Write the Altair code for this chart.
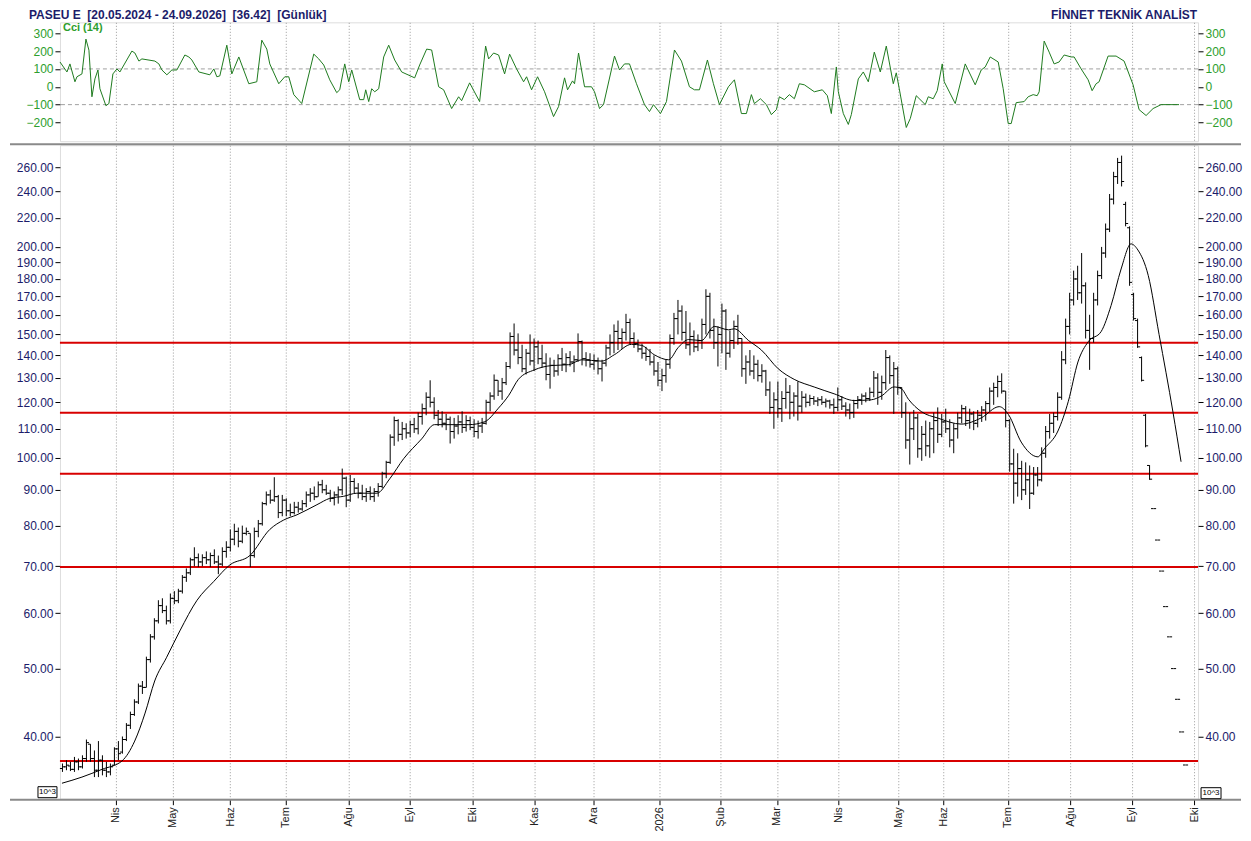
import altair as alt
import pandas as pd

# ---------------- data ----------------
HIGH = [
    36.6, 37.0, 36.8, 37.4, 37.2, 37.6, 39.6, 39.0, 38.2, 39.4,
    37.6, 36.8, 36.6, 38.6, 39.4, 40.0, 41.8, 43.4, 45.2, 47.6,
    48.0, 52.0, 56.0, 59.0, 62.6, 63.0, 61.5, 64.0, 64.5, 65.0,
    68.0, 69.5, 72.0, 74.5, 73.0, 72.8, 73.5, 73.2, 74.0, 72.5,
    74.5, 76.0, 79.0, 80.5, 79.5, 80.0, 79.5, 78.0, 79.5, 81.5,
    86.5, 89.5, 90.0, 93.8, 88.5, 88.5, 87.5, 86.0, 86.5, 86.5,
    87.0, 89.5, 90.5, 91.0, 92.5, 93.0, 91.5, 90.0, 89.5, 91.0,
    96.5, 94.0, 94.5, 93.5, 92.0, 91.5, 90.5, 91.0, 90.5, 92.0,
    95.5, 99.0, 108.0, 114.5, 113.5, 112.5, 112.0, 113.0, 114.0, 116.0,
    119.5, 124.0, 129.0, 122.0, 117.0, 116.5, 115.5, 114.5, 114.0, 115.0,
    116.5, 115.0, 114.5, 113.5, 113.0, 114.0, 121.0, 124.0, 131.5, 129.0,
    130.0, 137.0, 151.0, 155.5, 150.5, 145.0, 143.0, 150.0, 148.0, 147.0,
    145.0, 141.0, 139.0, 138.0, 140.5, 143.5, 141.0, 142.0, 140.0, 150.5,
    147.0, 141.5, 141.0, 140.5, 139.0, 138.0, 145.0, 150.0, 155.0, 157.0,
    153.0, 160.5, 158.0, 151.0, 147.5, 145.5, 144.0, 143.0, 140.0, 137.0,
    134.0, 138.0, 150.0, 161.0, 168.0, 165.0, 162.0, 156.0, 152.0, 150.0,
    158.0, 174.0, 172.0, 158.0, 154.0, 166.0, 163.0, 152.0, 157.0, 160.0,
    148.0, 140.0, 142.5, 140.0, 138.0, 136.0, 133.5, 128.5, 124.0, 128.5,
    124.5, 130.0, 127.0, 124.0, 128.5, 124.5, 123.5, 123.0, 122.5, 122.0,
    122.5, 121.5, 121.0, 121.5, 126.0, 122.5, 120.0, 119.5, 121.0, 122.5,
    123.5, 124.0, 126.0, 133.0, 132.0, 131.0, 142.5, 140.0, 137.0, 135.0,
    126.0, 120.0, 116.0, 117.0, 115.5, 111.0, 113.0, 112.5, 116.0, 118.0,
    115.5, 117.5, 113.5, 112.0, 116.0, 119.0, 118.5, 117.5, 116.5, 117.0,
    118.5, 120.5, 126.0, 128.0, 131.0, 132.0, 124.5, 113.5, 103.0, 101.5,
    99.0, 98.5, 97.5, 97.0, 97.0, 103.5, 111.0, 115.5, 116.0, 124.0,
    142.0, 158.0, 172.0, 185.0, 188.0, 196.0, 178.0, 160.0, 172.0, 185.0,
    200.0, 216.0, 238.0, 256.0, 268.0, 270.0, 232.0, 214.0, 172.0, 158.0,
    139.5, 115.5, 97.6, 84.6, 76.3, 68.9, 61.3, 55.5, 50.0, 45.2,
    40.6, 36.42,
]
LOW = [
    35.6, 35.8, 35.7, 35.6, 35.8, 36.0, 36.8, 36.8, 35.0, 35.0,
    35.2, 35.0, 35.2, 36.4, 37.0, 37.8, 39.4, 41.0, 42.8, 44.5,
    46.0, 47.0, 51.0, 55.0, 58.0, 60.0, 57.8, 58.0, 61.8, 62.0,
    64.0, 66.5, 68.0, 70.0, 69.8, 70.0, 70.5, 69.8, 70.5, 68.2,
    70.0, 72.0, 73.5, 75.0, 74.5, 75.5, 77.5, 69.8, 72.0, 77.0,
    80.0, 85.5, 86.0, 86.5, 82.0, 82.5, 82.5, 82.5, 83.0, 83.5,
    84.0, 85.0, 86.5, 87.0, 88.0, 89.0, 88.5, 86.5, 85.5, 86.0,
    88.5, 85.0, 86.5, 89.0, 87.5, 87.0, 86.5, 87.0, 86.5, 88.0,
    90.5, 93.5, 98.0, 104.0, 105.5, 106.0, 106.5, 107.0, 108.5, 108.0,
    111.5, 115.0, 118.0, 113.5, 111.0, 110.5, 109.5, 104.8, 106.5, 108.0,
    108.5, 109.0, 109.5, 107.0, 106.5, 108.5, 111.5, 116.5, 121.0, 122.5,
    121.0, 127.0, 134.0, 140.0, 136.0, 132.5, 131.5, 135.5, 133.0, 136.0,
    134.5, 129.0, 125.5, 130.5, 131.0, 133.0, 132.5, 135.0, 132.5, 137.0,
    135.5, 135.0, 134.5, 133.5, 131.5, 128.5, 135.0, 140.0, 141.0, 142.5,
    143.0, 147.0, 145.0, 143.5, 141.5, 138.5, 137.5, 135.5, 131.0, 126.5,
    124.5, 128.0, 134.0, 145.0, 150.0, 147.0, 143.0, 140.0, 141.5, 142.0,
    143.0, 150.0, 148.0, 143.0, 135.0, 141.0, 133.5, 139.0, 143.0, 145.0,
    130.5, 127.5, 131.0, 129.5, 128.5, 128.0, 122.5, 115.5, 110.0, 114.0,
    112.5, 117.5, 113.5, 114.5, 113.0, 116.0, 118.0, 118.5, 119.0, 118.5,
    119.0, 118.0, 117.5, 115.5, 116.5, 117.0, 114.5, 113.5, 114.0, 117.5,
    119.0, 120.0, 120.5, 122.0, 119.0, 121.0, 125.0, 127.5, 115.5, 123.0,
    114.0, 103.0, 97.8, 106.0, 100.0, 99.0, 100.5, 100.0, 101.5, 105.0,
    107.0, 108.5, 103.5, 101.5, 106.5, 112.0, 111.0, 110.0, 109.5, 110.5,
    112.5, 113.0, 116.5, 119.0, 122.0, 123.5, 110.5, 95.5, 86.0, 88.0,
    87.0, 88.5, 84.5, 88.5, 91.0, 92.5, 100.0, 106.5, 108.5, 113.0,
    121.0, 136.0, 150.0, 165.0, 168.0, 166.0, 148.0, 133.5, 146.0, 165.0,
    180.0, 193.0, 210.0, 230.0, 246.0, 244.0, 214.0, 176.0, 157.0, 143.5,
    128.5, 103.5, 93.0, 84.6, 76.3, 68.9, 61.3, 55.5, 50.0, 45.2,
    40.6, 36.42,
]
OPEN = [
    36.0, 36.2, 36.3, 35.9, 36.8, 36.2, 37.2, 39.0, 37.2, 35.8,
    37.0, 35.8, 35.6, 36.4, 38.4, 38.0, 39.6, 41.5, 43.0, 44.8,
    47.2, 47.0, 51.5, 55.5, 58.5, 61.5, 60.5, 58.5, 63.0, 62.5,
    64.5, 67.5, 68.5, 71.5, 72.0, 71.0, 72.0, 71.5, 72.5, 71.0,
    70.5, 73.5, 74.5, 76.5, 78.5, 76.0, 78.0, 78.0, 72.5, 78.5,
    80.5, 86.0, 88.5, 87.0, 88.0, 83.5, 87.0, 84.0, 83.5, 85.0,
    84.5, 86.0, 88.5, 89.0, 88.0, 91.5, 90.0, 89.0, 87.5, 88.5,
    90.0, 93.5, 87.0, 92.5, 90.5, 89.0, 88.0, 89.5, 88.0, 89.5,
    91.0, 95.0, 98.5, 107.0, 113.0, 108.0, 110.0, 108.5, 111.5, 110.0,
    114.5, 117.5, 122.0, 120.0, 115.0, 113.5, 112.0, 113.5, 109.0, 111.0,
    112.5, 110.5, 113.0, 110.5, 109.0, 111.0, 112.0, 120.0, 122.5, 129.0,
    124.5, 128.0, 135.0, 149.0, 142.5, 139.0, 134.0, 141.0, 137.5, 144.0,
    138.5, 136.5, 131.5, 135.5, 133.0, 138.5, 136.0, 139.0, 137.0, 138.0,
    146.5, 138.5, 138.0, 136.0, 137.5, 134.0, 136.5, 143.5, 146.0, 151.5,
    148.0, 151.0, 156.0, 148.0, 145.5, 143.0, 141.0, 139.5, 137.0, 133.0,
    129.0, 131.0, 136.0, 148.0, 158.0, 162.0, 151.0, 145.0, 149.0, 144.0,
    147.0, 155.0, 170.0, 152.0, 146.0, 150.0, 162.0, 141.0, 147.0, 154.0,
    148.0, 134.0, 137.0, 133.0, 136.0, 131.0, 133.0, 125.0, 118.0, 121.0,
    117.5, 121.5, 124.0, 120.0, 122.5, 118.5, 122.0, 120.0, 121.5, 120.5,
    121.0, 120.0, 120.5, 119.0, 118.0, 121.0, 118.5, 117.0, 116.0, 119.5,
    121.0, 122.5, 121.5, 124.0, 130.0, 124.0, 128.0, 139.0, 131.0, 134.0,
    126.0, 116.0, 106.0, 110.0, 114.0, 103.0, 108.0, 104.0, 110.0, 113.0,
    108.0, 112.5, 110.0, 106.0, 110.0, 114.0, 117.5, 113.0, 115.5, 112.0,
    115.0, 117.0, 119.5, 124.5, 126.0, 128.5, 124.5, 113.0, 98.0, 92.0,
    96.5, 90.0, 93.0, 89.0, 94.5, 93.0, 101.5, 109.0, 112.0, 114.5,
    122.0, 138.0, 154.0, 168.0, 180.0, 172.0, 176.0, 152.0, 148.0, 168.0,
    182.0, 196.0, 212.0, 234.0, 252.0, 264.0, 230.0, 213.0, 171.0, 157.0,
    139.0, 115.0, 97.5, 84.6, 76.3, 68.9, 61.3, 55.5, 50.0, 45.2,
    40.6, 36.42,
]
CLOSE = [
    36.2, 36.4, 35.9, 36.8, 36.2, 37.2, 39.2, 37.2, 35.8, 37.0,
    35.8, 35.6, 36.2, 38.4, 37.8, 39.6, 41.5, 43.0, 44.8, 47.2,
    47.0, 51.5, 55.5, 58.5, 61.5, 60.5, 58.5, 63.0, 62.5, 64.5,
    67.5, 68.5, 71.5, 72.0, 71.0, 72.0, 71.5, 72.5, 71.0, 70.5,
    73.5, 74.5, 76.5, 78.5, 76.0, 78.0, 78.5, 72.5, 78.5, 80.5,
    86.0, 88.5, 87.0, 88.0, 83.5, 87.0, 84.0, 83.5, 85.0, 84.5,
    86.0, 88.5, 89.0, 88.0, 91.5, 90.0, 89.0, 87.5, 88.5, 90.0,
    93.5, 87.0, 92.5, 90.5, 89.0, 88.0, 89.5, 88.0, 89.5, 91.0,
    95.0, 98.5, 107.0, 113.0, 108.0, 110.0, 108.5, 111.5, 110.0, 114.5,
    117.5, 122.0, 120.0, 115.0, 113.5, 112.0, 113.5, 109.0, 111.0, 112.5,
    110.5, 113.0, 110.5, 109.0, 111.0, 112.0, 120.0, 122.5, 129.0, 124.5,
    128.0, 135.0, 149.0, 142.5, 139.0, 134.0, 141.0, 137.5, 144.0, 138.5,
    136.5, 131.5, 135.5, 133.0, 138.5, 136.0, 139.0, 137.0, 138.0, 146.5,
    138.5, 138.0, 136.0, 137.5, 134.0, 136.5, 143.5, 146.0, 151.5, 148.0,
    151.0, 156.0, 148.0, 145.5, 143.0, 141.0, 139.5, 137.0, 133.0, 129.0,
    131.0, 136.0, 148.0, 158.0, 162.0, 151.0, 145.0, 149.0, 144.0, 147.0,
    155.0, 170.0, 152.0, 146.0, 150.0, 162.0, 141.0, 147.0, 154.0, 148.0,
    134.0, 137.0, 133.0, 136.0, 131.0, 133.0, 125.0, 118.0, 121.0, 117.5,
    121.5, 124.0, 120.0, 122.5, 118.5, 122.0, 120.0, 121.5, 120.5, 121.0,
    120.0, 120.5, 119.0, 118.0, 121.0, 118.5, 117.0, 116.0, 119.5, 121.0,
    122.5, 121.5, 124.0, 130.0, 124.0, 128.0, 139.0, 131.0, 134.0, 126.0,
    116.0, 106.0, 110.0, 114.0, 103.0, 108.0, 104.0, 110.0, 113.0, 108.0,
    112.5, 110.0, 106.0, 110.0, 114.0, 117.5, 113.0, 115.5, 112.0, 115.0,
    117.0, 119.5, 124.5, 126.0, 128.5, 124.5, 113.0, 98.0, 92.0, 96.5,
    90.0, 93.0, 89.0, 94.5, 93.0, 101.5, 109.0, 112.0, 114.5, 122.0,
    138.0, 154.0, 168.0, 180.0, 172.0, 176.0, 152.0, 148.0, 168.0, 182.0,
    196.0, 212.0, 234.0, 252.0, 264.0, 248.0, 216.0, 178.0, 158.0, 144.0,
    129.0, 104.0, 93.2, 84.6, 76.3, 68.9, 61.3, 55.5, 50.0, 45.2,
    40.6, 36.42,
]

# moving average (day, value)
MA = [
    (0, 34.3), (5, 35.0), (10, 35.9), (15, 36.9), (18.2, 39.4), (20.8, 43.2),
    (23.2, 48.0), (26.2, 51.9), (29.5, 56.6), (33.8, 62.6), (38, 66.6), (42, 70.3),
    (47, 72.5), (52, 79.0), (55.5, 81.5), (58.8, 82.9), (63.8, 85.7), (67, 87.5),
    (70.5, 88.1), (73.8, 89.0), (78.8, 89.0), (82, 93.3), (85.5, 99.7), (90, 106.4),
    (93.2, 111.5), (101.8, 111.5), (105.8, 112.6), (109.2, 117.7), (111.8, 122.8),
    (114.2, 129.4), (118.2, 133.5), (122.5, 135.4), (126.8, 135.8), (130, 138.0),
    (135, 137.4), (138.2, 140.3), (142.5, 145.2), (145, 144.7), (148.2, 140.3),
    (151.8, 138.0), (154.2, 143.7), (156.8, 147.5), (160, 147.0), (163.2, 154.0),
    (166.8, 152.3), (168.2, 152.8), (171.8, 147.0), (175, 142.5), (179.2, 134.0),
    (183.2, 129.4), (188.2, 126.2), (193.2, 123.4), (198.2, 120.7), (202.5, 121.0),
    (205, 122.5), (208.2, 126.2), (210, 125.5), (211.8, 121.2), (215, 116.4),
    (219.2, 113.9), (225, 111.7), (230, 114.0), (234.5, 118.3), (236.8, 115.3),
    (240, 105.3), (244.2, 100.3), (245.8, 103.0), (249.2, 109.2), (251.8, 120.4),
    (254.2, 137.0), (256.8, 146.5), (260, 151.4), (262.5, 165.0), (265, 186.0),
    (267.5, 202.0), (269.2, 198.0), (271.8, 182.0), (274.5, 150.0), (278, 116.0),
    (280, 98.7),
]

# CCI(14) (day, value)
CCI = [
    (-0.5, 139), (1.25, 83), (2, 128), (3.25, 28), (3.75, 56), (5, 72), (6, 267),
    (6.75, 205), (7.5, -56), (8.25, 44), (9, 94), (9.5, -11), (11, -106), (11.75, -94),
    (12.75, 72), (13.75, 100), (14.5, 83), (15.5, 122), (17.5, 200), (18.25, 189),
    (19.25, 144), (20, 156), (23.25, 144), (24.25, 128), (25, 94), (26.25, 67),
    (27.5, 94), (28.75, 94), (30.75, 178), (31.75, 167), (32.5, 150), (34.25, 83),
    (37, 67), (38, 100), (38.75, 56), (39.5, 61), (41.25, 233), (42.5, 72),
    (44.25, 167), (46.75, 17), (48.75, 28), (50, 261), (51.25, 211), (52, 128),
    (54.25, 17), (55.75, 56), (56.75, 56), (58, -44), (60, -94), (63, 183),
    (64.25, 156), (65.5, 122), (67, 39), (68.75, -33), (69.5, -17), (70.75, 128),
    (71.75, 28), (72.5, 94), (74.5, -72), (75.5, -72), (76, -17), (76.75, -83),
    (77.5, -11), (78.25, -28), (79.25, -11), (80.5, 167), (81.75, 233), (83.25, 150),
    (85, 83), (88.25, 50), (89.5, 122), (91.25, 211), (92.5, 206), (94.25, 0),
    (95.5, -17), (97.5, -122), (99.25, -56), (100, -78), (102, 22), (104.5, -83),
    (106, 228), (106.75, 156), (108, 189), (109.25, 178), (110.75, 72), (112, 183),
    (113.75, 100), (115.5, 28), (116.25, 56), (117.5, -17), (119, 56), (120.75, -28),
    (123, -167), (124.25, -111), (125.75, 50), (126.5, -17), (127.75, 33), (128.25, 17),
    (129.25, 189), (130.75, 0), (132.5, 0), (133.25, -28), (134.5, -122), (135.5, -100),
    (138.25, 172), (139.5, 94), (140.75, 128), (142, 128), (143.75, 17), (145.75, -100),
    (147, -139), (148, -100), (149.75, -150), (151.25, -83), (153.25, 206), (155, 144),
    (157, 0), (158.25, -17), (159.5, -17), (161.5, 150), (163, 17), (164.5, -100),
    (166.75, 0), (168.25, 39), (170, -150), (171.25, -150), (172.5, -44), (173.25, -94),
    (174.75, -67), (176.25, -100), (177.5, -156), (178.75, -128), (179.5, -56),
    (180.75, -72), (182, -44), (183.25, -67), (184.5, 17), (185.75, 11), (188.25, -28),
    (190.25, -17), (191.5, -50), (192.5, -150), (193.75, 111), (194.25, -28),
    (195.5, -150), (196.75, -211), (197.5, -156), (199.25, 44), (200.5, 83),
    (201.75, 28), (203.25, 194), (204.75, 83), (206.25, 228), (208, 17), (208.75, 78),
    (209.5, -11), (211.25, -228), (212.25, -178), (213.75, -50), (216, -100),
    (216.75, -56), (218, -67), (219, -22), (220.25, 128), (220.75, 28), (223.5, -94),
    (226, 128), (228.5, 11), (230, 94), (231, 111), (232.25, 167), (234.25, 139),
    (235.5, -11), (236.75, -206), (237.5, -206), (238.75, -89), (240.75, -83),
    (241.75, -56), (243, -44), (244, -50), (244.5, -28), (245.75, 256), (247, 194),
    (248.25, 128), (249.5, 139), (250.75, 178), (252.5, 167), (253.25, 167), (255, 100),
    (256.75, 39), (257.75, -22), (258.75, 17), (259.5, 28), (261.75, 172),
    (263.75, 172), (265.75, 144), (268, 11), (269.5, -128), (271.25, -161), (273, -122),
    (275, -100), (277.5, -100), (279.5, -100),
]

MONTH_POS = [13.4, 27.7, 42.1, 56.0, 71.7, 86.9, 102.7, 118.3, 133.0, 149.4,
             164.75, 178.9, 194.2, 209.2, 220.6, 236.7, 252.3, 267.7, 283.3]
MONTH_LBL = ["Nis", "May", "Haz", "Tem", "Ağu", "Eyl", "Eki", "Kas", "Ara", "2026",
             "Şub", "Mar", "Nis", "May", "Haz", "Tem", "Ağu", "Eyl", "Eki"]
PRICE_TICKS = [40, 50, 60, 70, 80, 90, 100, 110, 120, 130, 140, 150, 160, 170,
               180, 190, 200, 220, 240, 260]
CCI_TICKS = [-200, -100, 0, 100, 200, 300]
LEVELS = [145.9, 115.9, 94.9, 69.8, 36.9]
CCI_BANDS = [-100, 100]

HEADER_LEFT = "PASEU E\u00a0\u00a0[20.05.2024 - 24.09.2026]\u00a0\u00a0[36.42]\u00a0\u00a0[Günlük]"
HEADER_RIGHT = "FİNNET TEKNİK ANALİST"
CCI_NAME = "Cci (14)"

# ---------------- styling ----------------
FONT = "Liberation Sans"
NAVY = "#1c1c6a"
GREEN_LBL = "#2e9e2e"
GREEN_LINE = "#1e7a1e"
W = 1139
H_TOP = 119
H_MAIN = 654

bars = pd.DataFrame({"day": list(range(len(HIGH))), "high": HIGH, "low": LOW,
                     "open": OPEN, "close": CLOSE})
ma_df = pd.DataFrame(MA, columns=["day", "ma"])
cci_df = pd.DataFrame(CCI, columns=["day", "cci"])
one = pd.DataFrame({"k": [0]})

xs = alt.Scale(domain=[-0.5, 284.25], nice=False, zero=False)
ys = alt.Scale(type="log", domain=[32.6, 279.4], nice=False)
cs = alt.Scale(domain=[-305, 361], nice=False, zero=False)

label_expr = ("[" + ",".join("'" + m + "'" for m in MONTH_LBL) + "][indexof(["
              + ",".join(str(p) for p in MONTH_POS) + "], datum.value)]")

x_axis_main = alt.Axis(values=MONTH_POS, labelExpr=label_expr, labelAngle=270,
                       labelFontSize=11, labelColor="#222222", labelFont=FONT,
                       labelOverlap=False, labelBound=False, labelFlush=False,
                       grid=True, gridColor="#9a9a9a", gridDash=[1, 2], gridWidth=1,
                       ticks=True, tickColor="black", tickSize=6, domain=False,
                       title=None, labelPadding=2)
x_axis_top = alt.Axis(values=MONTH_POS, labels=False, ticks=False, domain=False,
                      grid=True, gridColor="#9a9a9a", gridDash=[1, 2], gridWidth=1,
                      title=None, minExtent=0, maxExtent=0, offset=0)


def y_axis(vals, color, orient, fmt=None, ext=45):
    kw = dict(values=vals, labelColor=color, labelFontSize=12, labelFont=FONT,
              tickColor="black", tickSize=5, domain=False, grid=False, title=None,
              labelOverlap=False, minExtent=ext, maxExtent=ext, labelPadding=2,
              orient=orient)
    if fmt:
        kw["format"] = fmt
    return alt.Axis(**kw)


X = alt.X("day:Q", scale=xs, axis=x_axis_main)

# ---------------- CCI panel ----------------
bands = alt.Chart(pd.DataFrame({"v": CCI_BANDS})).mark_rule(
    color="#a0a0a0", strokeDash=[4, 3], strokeWidth=1
).encode(y=alt.Y("v:Q", scale=cs, axis=y_axis(CCI_TICKS, GREEN_LBL, "left")))

hdr_l = alt.Chart(one).mark_text(align="left", baseline="middle", font=FONT,
                                 fontSize=12, fontWeight="bold", color=NAVY).encode(
    x=alt.value(-31), y=alt.value(-7), text=alt.value(HEADER_LEFT))
hdr_r = alt.Chart(one).mark_text(align="right", baseline="middle", font=FONT,
                                 fontSize=12, fontWeight="bold", color=NAVY).encode(
    x=alt.value(1138), y=alt.value(-7), text=alt.value(HEADER_RIGHT))
cci_lbl = alt.Chart(one).mark_text(align="left", baseline="middle", font=FONT,
                                   fontSize=11, fontWeight="bold", color=GREEN_LBL).encode(
    x=alt.value(3), y=alt.value(6), text=alt.value(CCI_NAME))

cci_line = alt.Chart(cci_df).mark_line(color=GREEN_LINE, strokeWidth=1).encode(
    x=alt.X("day:Q", scale=xs, axis=x_axis_top),
    y=alt.Y("cci:Q", scale=cs, axis=y_axis(CCI_TICKS, GREEN_LBL, "right", ext=43)),
)

top = alt.layer(alt.layer(bands, hdr_l, hdr_r, cci_lbl), cci_line).resolve_scale(
    y="independent").properties(width=W, height=H_TOP)

# ---------------- price panel ----------------
levels = alt.Chart(pd.DataFrame({"lvl": LEVELS})).mark_rule(
    color="#d80000", strokeWidth=2
).encode(y=alt.Y("lvl:Q", scale=ys, axis=y_axis(PRICE_TICKS, NAVY, "left", ".2f")))

wick = alt.Chart(bars).mark_rule(color="black", strokeWidth=1, xOffset=0.5).encode(
    x=X, y=alt.Y("low:Q", scale=ys), y2="high:Q")
open_t = alt.Chart(bars).mark_tick(orient="horizontal", size=2.5, thickness=1,
                                   xOffset=-0.8, color="black", opacity=1).encode(
    x=X, y=alt.Y("open:Q", scale=ys))
close_t = alt.Chart(bars).mark_tick(orient="horizontal", size=2.5, thickness=1,
                                    xOffset=1.8, color="black", opacity=1).encode(
    x=X, y=alt.Y("close:Q", scale=ys))

sep_top = alt.Chart(one).mark_rule(color="#8a8a8a", strokeWidth=2).encode(
    x=alt.value(-50), x2=alt.value(W + 43), y=alt.value(-1))
sep_bot = alt.Chart(one).mark_rule(color="#8a8a8a", strokeWidth=2).encode(
    x=alt.value(-50), x2=alt.value(W + 43), y=alt.value(H_MAIN + 1))

box_l = alt.Chart(one).mark_rect(fill="white", stroke="black", strokeWidth=1).encode(
    x=alt.value(-22), x2=alt.value(-3), y=alt.value(H_MAIN - 12), y2=alt.value(H_MAIN - 1))
txt_l = alt.Chart(one).mark_text(fontSize=8, font=FONT, color="black").encode(
    x=alt.value(-12.5), y=alt.value(H_MAIN - 6.5), text=alt.value("10^3"))
box_r = alt.Chart(one).mark_rect(fill="white", stroke="black", strokeWidth=1).encode(
    x=alt.value(W + 3), x2=alt.value(W + 23), y=alt.value(H_MAIN - 11), y2=alt.value(H_MAIN))
txt_r = alt.Chart(one).mark_text(fontSize=8, font=FONT, color="black").encode(
    x=alt.value(W + 13), y=alt.value(H_MAIN - 5.5), text=alt.value("10^3"))

ma_line = alt.Chart(ma_df).mark_line(color="black", strokeWidth=1,
                                     interpolate="monotone").encode(
    x=X, y=alt.Y("ma:Q", scale=ys, axis=y_axis(PRICE_TICKS, NAVY, "right", ".2f", ext=43)))

inner = alt.layer(levels, wick, open_t, close_t, sep_top, sep_bot,
                  box_l, txt_l, box_r, txt_r)
main = alt.layer(inner, ma_line).resolve_scale(y="independent").properties(
    width=W, height=H_MAIN)

chart = alt.vconcat(top, main, spacing=0).resolve_scale(
    x="independent", y="independent"
).properties(
    padding={"left": 0, "right": 0, "top": 0, "bottom": 0}
).configure_view(stroke="black", strokeWidth=1).configure(font=FONT)

chart.save("out.html", embed_options={"renderer": "svg", "actions": False})
